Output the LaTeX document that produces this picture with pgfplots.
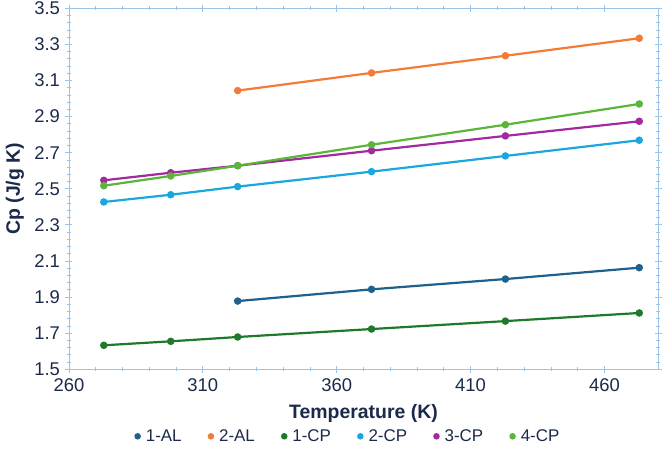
\documentclass[border=0pt]{standalone}
\usepackage{pgfplots}
\pgfplotsset{compat=1.18}
\usepackage{fontspec}
\setmainfont{Liberation Sans}

\definecolor{axisblue}{HTML}{9CC3E8}
\definecolor{textnavy}{HTML}{1B2A4A}
\definecolor{cAL1}{HTML}{1F618E}
\definecolor{cAL2}{HTML}{F47A38}
\definecolor{cCP1}{HTML}{1E7A2A}
\definecolor{cCP2}{HTML}{1AA7E0}
\definecolor{cCP3}{HTML}{A2299E}
\definecolor{cCP4}{HTML}{5BB53A}

\begin{document}
\begin{tikzpicture}
\useasboundingbox (-69bp,-95bp) rectangle (596bp,369.3bp);
\begin{axis}[
  scale only axis,
  width=589bp, height=361bp,
  at={(0,0)}, anchor=south west,
  xmin=260, xmax=480, ymin=1.5, ymax=3.5,
  xtick={260,310,360,410,460},
  ytick={1.5,1.7,...,3.5},
  minor x tick num=4,
  minor y tick num=4,
  tick align=center,
  major tick length=7bp,
  minor tick length=4bp,
  axis line style={draw=axisblue, line width=0.8bp},
  every tick/.style={draw=axisblue, line width=0.8bp},
  /pgf/number format/assume math mode=true,
  /pgf/number format/.cd, fixed, fixed zerofill, precision=1, /pgfplots/.cd,
  xticklabel={\pgfmathprintnumber[precision=0,fixed zerofill=false]{\tick}},
  tick label style={font=\fontsize{18.5}{21}\selectfont, text=textnavy},
  yticklabel style={xshift=-2bp},
  xticklabel style={yshift=-2bp},
  every axis x label/.style={at={(rel axis cs:0.5,0)}, anchor=center, yshift=-44bp},
  every axis y label/.style={at={(rel axis cs:0,0.5)}, xshift=-54bp, rotate=90, anchor=center},
  label style={font=\bfseries\fontsize{19.5}{23}\selectfont, text=textnavy},
  xlabel={Temperature (K)},
  ylabel={Cp (J/g K)},
  legend columns=6,
  legend style={at={(0.47,0)}, anchor=center, yshift=-67bp, draw=none,
    font=\fontsize{17}{20}\selectfont, text=textnavy,
    /tikz/every even column/.append style={column sep=20bp}},
  legend image code/.code={\path (0cm,0cm) (0.4cm,0cm); \fill[#1] (0.22cm,0cm) circle (2.1bp);},
  every axis plot/.append style={line width=2.2bp, mark=*, mark size=2.6bp},
]
\addplot[cAL1] coordinates {(323,1.878) (373,1.943) (423,2.000) (473,2.063)};
\addlegendentry{1-AL}
\addplot[cAL2] coordinates {(323,3.044) (373,3.142) (423,3.237) (473,3.334)};
\addlegendentry{2-AL}
\addplot[cCP1] coordinates {(273,1.633) (298,1.655) (323,1.679) (373,1.723) (423,1.767) (473,1.812)};
\addlegendentry{1-CP}
\addplot[cCP2] coordinates {(273,2.427) (298,2.467) (323,2.512) (373,2.595) (423,2.682) (473,2.769)};
\addlegendentry{2-CP}
\addplot[cCP3] coordinates {(273,2.547) (298,2.589) (323,2.628) (373,2.711) (423,2.793) (473,2.874)};
\addlegendentry{3-CP}
\addplot[cCP4] coordinates {(273,2.517) (298,2.571) (323,2.628) (373,2.744) (423,2.855) (473,2.970)};
\addlegendentry{4-CP}
\end{axis}
\end{tikzpicture}
\end{document}
